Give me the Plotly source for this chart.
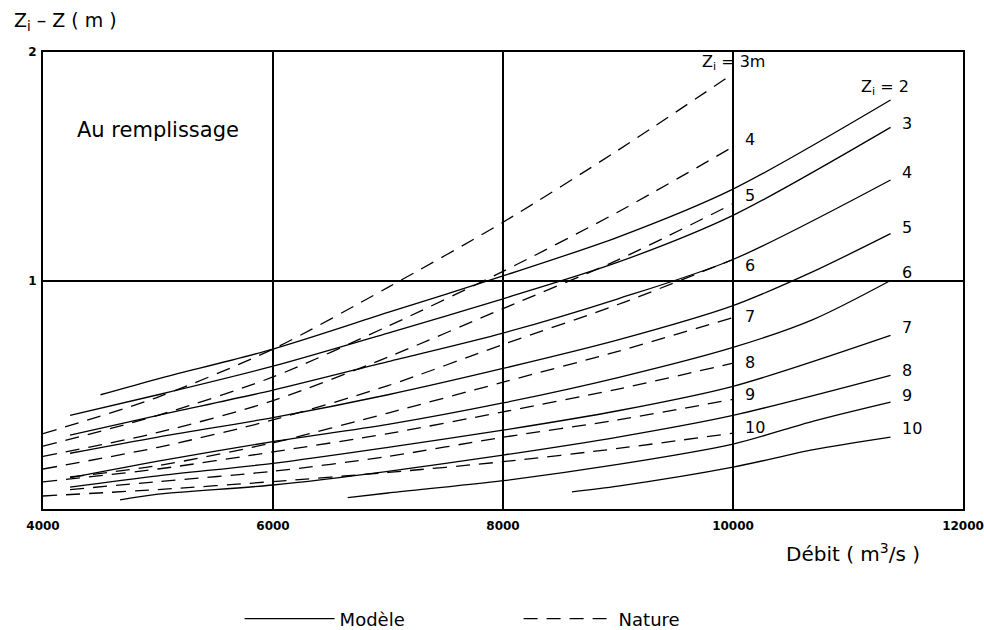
import plotly.graph_objects as go

# Débit (m3/s) grid at which values were read
debit = [4000, 4235, 4500, 4670, 5000, 6000, 6650, 7000, 8000, 8600, 9000, 10000, 10700, 11370]

# Modèle (solid) Zi - Z (m); None = not read / curve not present there
modele_2 = [None, None, 0.50, None, 0.57, 0.70, None, 0.86, 1.02, None, 1.19, 1.40, None, 1.79]
modele_3 = [None, 0.41, None, None, 0.50, 0.625, None, 0.77, 0.92, None, 1.08, 1.285, None, 1.67]
modele_4 = [None, 0.323, None, None, 0.41, 0.52, None, 0.645, 0.77, None, 0.92, 1.092, None, 1.44]
modele_5 = [None, 0.244, None, None, 0.315, 0.40, None, 0.50, 0.615, None, 0.74, 0.89, 1.04, 1.205]
modele_6 = [None, 0.137, None, None, 0.21, 0.295, None, 0.37, 0.464, None, 0.575, 0.707, 0.83, 1.0]
modele_7 = [None, 0.096, None, None, 0.145, 0.20, None, 0.27, 0.345, None, 0.43, 0.537, None, 0.76]
modele_8 = [None, None, None, 0.04, 0.065, 0.105, None, 0.165, 0.236, None, 0.315, 0.41, None, 0.585]
modele_9 = [None, None, None, None, None, None, 0.05, 0.07, 0.124, None, 0.195, 0.284, 0.385, 0.468]
modele_10 = [None, None, None, None, None, None, None, None, None, 0.075, 0.10, 0.183, 0.26, 0.315]

# Nature (dashed)
nature_3 = [0.33, None, None, None, 0.49, 0.70, None, 0.97, 1.255, None, 1.57, 1.905, None, None]
nature_4 = [0.275, None, None, None, 0.41, 0.578, None, 0.80, 1.04, None, 1.30, 1.585, None, None]
nature_5 = [0.23, None, None, None, 0.335, 0.474, None, 0.665, 0.877, None, 1.09, 1.336, None, None]
nature_6 = [0.175, None, None, None, 0.27, 0.39, None, 0.54, 0.72, None, 0.895, 1.092, None, None]
nature_7 = [None, 0.14, None, None, 0.19, 0.29, None, 0.42, 0.555, None, 0.69, 0.838, None, None]
nature_8 = [0.119, None, None, None, 0.175, 0.25, None, 0.33, 0.425, None, 0.525, 0.638, None, None]
nature_9 = [None, 0.085, None, None, 0.12, 0.165, None, 0.23, 0.314, None, 0.39, 0.48, None, None]
nature_10 = [0.057, None, None, None, 0.085, 0.12, None, 0.16, 0.207, None, 0.265, 0.332, None, None]

modele_labels = ["Z<sub>i</sub> = 2", "3", "4", "5", "6", "7", "8", "9", "10"]
nature_labels = ["Z<sub>i</sub> = 3m", "4", "5", "6", "7", "8", "9", "10"]

x_ticks = [4000, 6000, 8000, 10000, 12000]
x_ticktext = ["4000", "6000", "8000", "10000", "12000"]
y_ticks = [1, 2]
y_ticktext = ["1", "2"]

modele = [modele_2, modele_3, modele_4, modele_5, modele_6, modele_7, modele_8, modele_9, modele_10]
nature = [nature_3, nature_4, nature_5, nature_6, nature_7, nature_8, nature_9, nature_10]

FONT = "DejaVu Sans"
fig = go.Figure()

for i, ys in enumerate(modele):
    fig.add_trace(go.Scatter(
        x=debit, y=ys, mode="lines", connectgaps=True,
        line=dict(color="black", width=1.3, shape="spline", smoothing=0.8),
        name="Modèle", legendgroup="m", showlegend=(i == 0), hoverinfo="skip"))

for i, ys in enumerate(nature):
    fig.add_trace(go.Scatter(
        x=debit, y=ys, mode="lines", connectgaps=True,
        line=dict(color="black", width=1.3, shape="spline", smoothing=0.8, dash="14px,9px"),
        name="Nature", legendgroup="n", showlegend=(i == 0), hoverinfo="skip"))

def last_point(ys):
    for xv, yv in zip(reversed(debit), reversed(ys)):
        if yv is not None:
            return xv, yv

LBL = 16
ann = []
m_shift = [12, 4, 7, 6, 8, 8, 5, 7, 9]
for lab, ys, sh in zip(modele_labels, modele, m_shift):
    xe, ye = last_point(ys)
    if lab.startswith("Z"):
        ann.append(dict(x=xe, y=ye, text=lab, showarrow=False, xanchor="right",
                        xshift=20, yshift=sh, font=dict(size=LBL)))
    else:
        ann.append(dict(x=xe, y=ye, text=lab, showarrow=False, xanchor="left",
                        xshift=9, yshift=sh, font=dict(size=LBL)))

n_shift = [11, 7, 8, -6, 1, 1, 5, 6]
for lab, ys, sh in zip(nature_labels, nature, n_shift):
    xe, ye = last_point(ys)
    if lab.startswith("Z"):
        ann.append(dict(x=xe, y=ye, text=lab, showarrow=False, xanchor="center",
                        xshift=0, yshift=sh, font=dict(size=LBL)))
    else:
        ann.append(dict(x=xe, y=ye, text=lab, showarrow=False, xanchor="left",
                        xshift=10, yshift=sh, font=dict(size=LBL)))

ann.append(dict(x=4278, y=1.66, text="Au remplissage", showarrow=False,
                xanchor="left", yanchor="middle", font=dict(size=21)))
ann.append(dict(xref="paper", yref="paper", x=-0.0337, y=1.066, text="Z<sub>i</sub> – Z ( m )",
                showarrow=False, xanchor="left", yanchor="middle", font=dict(size=19)))
ann.append(dict(xref="paper", yref="paper", x=0.955, y=-0.0963, text="Débit ( m<sup>3</sup>/s )",
                showarrow=False, xanchor="right", yanchor="middle", font=dict(size=20)))

fig.update_layout(
    width=984, height=630,
    margin=dict(l=43, r=21, t=52, b=121, autoexpand=False),
    paper_bgcolor="white", plot_bgcolor="white",
    font=dict(family=FONT, color="black"),
    annotations=ann,
    showlegend=True,
    legend=dict(orientation="h", xref="container", yref="container",
                x=0.2435, y=0.0175, xanchor="left", yanchor="middle",
                itemwidth=90, entrywidth=174, entrywidthmode="pixels",
                font=dict(size=18), bgcolor="rgba(0,0,0,0)"),
    xaxis=dict(range=[4000, 12000], tickvals=x_ticks, ticktext=x_ticktext,
               showgrid=True, gridcolor="black", gridwidth=1.5,
               showline=True, linecolor="black", linewidth=2, mirror=True,
               ticks="", zeroline=False, ticklabelstandoff=5, automargin=False,
               ticklabeloverflow="allow",
               tickfont=dict(size=12, weight="bold")),
    yaxis=dict(range=[0, 2], tickvals=y_ticks, ticktext=y_ticktext,
               showgrid=True, gridcolor="black", gridwidth=1.5,
               showline=True, linecolor="black", linewidth=2, mirror=True,
               ticks="", zeroline=False, ticklabelstandoff=2, automargin=False,
               ticklabeloverflow="allow",
               tickfont=dict(size=12, weight="bold")),
)

fig.write_html("out.html", config={"displayModeBar": False},
               post_script="document.body.style.margin='0px';")
